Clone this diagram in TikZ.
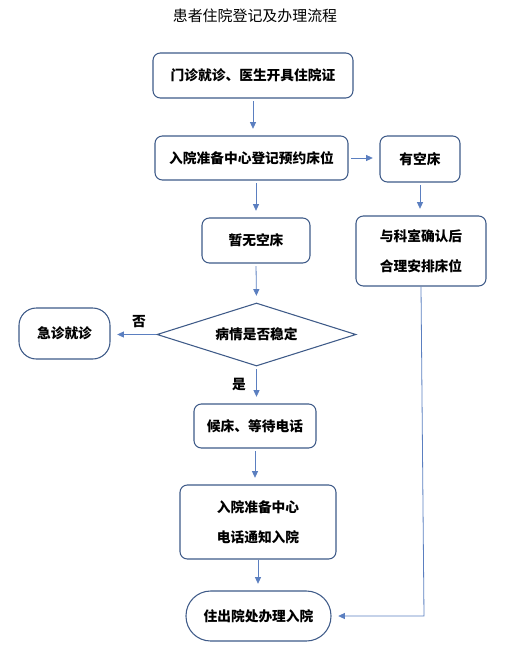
\documentclass[tikz,border=0pt]{standalone}
\usepackage{fontspec}
\setmainfont{Noto Sans CJK SC}
\usepackage{xcolor}
\usetikzlibrary{shapes.geometric, arrows.meta, positioning, calc}

\definecolor{boxline}{HTML}{3E5A88}
\definecolor{arrline}{HTML}{5B7FC0}
\newcommand{\px}{0.75pt}

\tikzset{
    stepbox/.style={draw=boxline, line width=0.8pt, rounded corners=5.5pt, align=center,
        inner sep=0pt, font=\fontsize{10.3}{12.4}\selectfont\bfseries},
    decide/.style={draw=boxline, line width=0.8pt, diamond, aspect=3.15, inner sep=0pt,
        minimum width=199*\px, minimum height=63*\px, font=\fontsize{10.3}{12.4}\selectfont\bfseries},
    flow/.style={draw=arrline, line width=0.6pt, -{Triangle[length=5pt,width=4.5pt]},
        shorten <=2pt, shorten >=5pt},
    tag/.style={font=\fontsize{10.3}{12.4}\selectfont\bfseries}
}

\begin{document}
\begin{tikzpicture}[x=0.75pt, y=-0.75pt]
    \useasboundingbox (0,0) rectangle (528,665);

    % title
    \node[font=\fontsize{11.2}{13}\selectfont] (title) at (255,16) {患者住院登记及办理流程};

    % main column
    \node[stepbox, minimum width=200*\px, minimum height=45*\px] (clinic) at (253,75.5) {门诊就诊、医生开具住院证};
    \node[stepbox, minimum width=193*\px, minimum height=44*\px] (book) at (251.5,158) {入院准备中心登记预约床位};
    \node[stepbox, minimum width=108*\px, minimum height=45*\px] (nobed) at (256,240.5) {暂无空床};
    \node[decide] (stable) at (256.5,334.5) {病情是否稳定};
    \node[stepbox, minimum width=122*\px, minimum height=44*\px] (wait) at (255,426) {候床、等待电话};
    \node[stepbox, minimum width=156*\px, minimum height=74*\px] (notify) at (258,522) {入院准备中心\\[10pt]电话通知入院};
    \node[stepbox, rounded corners=18.5pt, minimum width=145*\px, minimum height=50*\px] (admit) at (258.5,616) {住出院处办理入院};

    % side branches
    \node[stepbox, minimum width=80*\px, minimum height=46*\px] (bed) at (420,159) {有空床};
    \node[stepbox, minimum width=130*\px, minimum height=70*\px] (arrange) at (421,251) {与科室确认后\\[10pt]合理安排床位};
    \node[stepbox, rounded corners=13pt, minimum width=91*\px, minimum height=51*\px] (er) at (64.5,333.5) {急诊就诊};

    % connectors
    \coordinate (drop) at ($(arrange.south)+(3,0)$);
    \coordinate (turn) at (drop |- admit.east);
    \draw[flow] (clinic.south) -- (clinic.south |- book.north);
    \draw[flow] (book.east) -- (book.east -| bed.west);
    \draw[flow] (nobed.north |- book.south) -- (nobed.north);
    \draw[flow] (bed.south) -- (bed.south |- arrange.north);
    \draw[flow] (nobed.south) -- (stable.north);
    \draw[flow, shorten <=0pt] (stable.west) -- (stable.west -| er.east);
    \draw[flow] (stable.south) -- (stable.south |- wait.north);
    \draw[flow] (wait.south) -- (wait.south |- notify.north);
    \draw[flow, shorten <=0pt] (notify.south) -- (notify.south |- admit.north);
    \draw[flow, shorten <=0pt] (arrange.south) -- (turn) -- (admit.east);

    % labels
    \node[tag] (no) at (139,322) {否};
    \node[tag] (yes) at (239,384) {是};
\end{tikzpicture}
\end{document}
